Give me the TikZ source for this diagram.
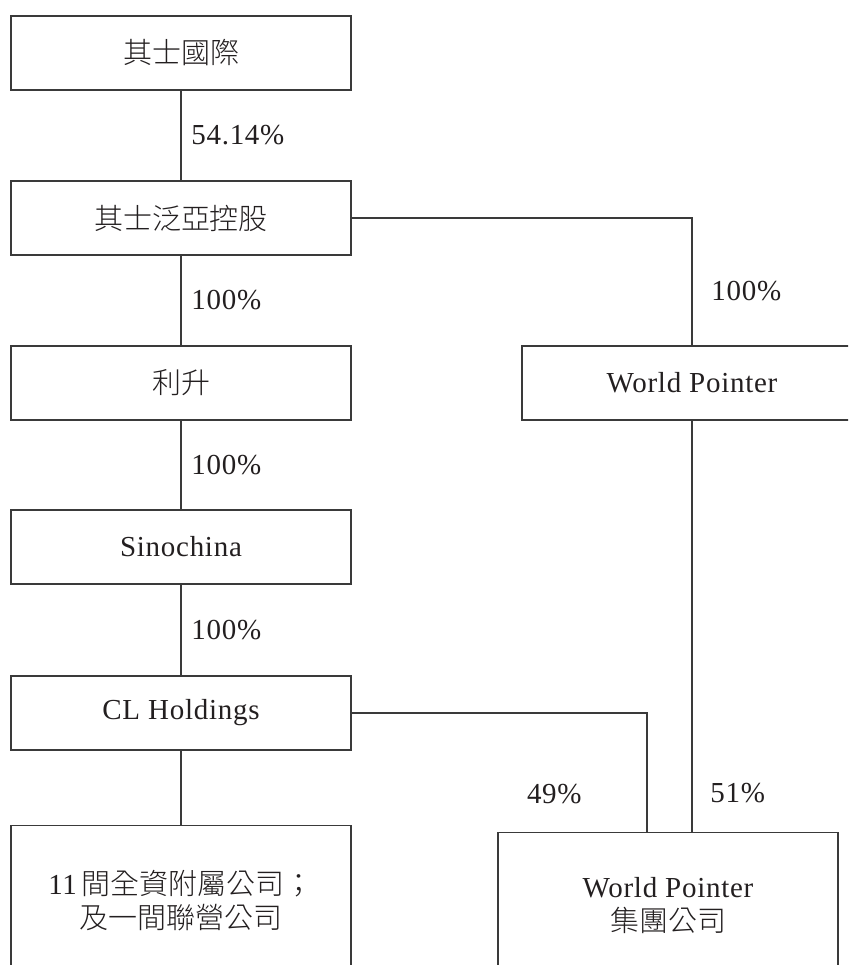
\documentclass[tikz,border=0pt]{standalone}
\usepackage{fontspec}
\setmainfont{Liberation Serif}[LetterSpace=2.5]
\newfontfamily\cjk{Noto Sans CJK TC}[UprightFont=* Light]
\definecolor{inkcol}{HTML}{231F20}
\definecolor{linecol}{HTML}{3A3A3A}
\tikzset{
	cobox/.style={draw=linecol, line width=0.7pt, minimum width=170pt, minimum height=37pt, inner sep=0pt},
	lowbox/.style={cobox, anchor=north, align=center, inner ysep=22.5pt, text depth=45pt},
	link/.style={draw=linecol, line width=0.7pt}
}
\begin{document}
\begin{tikzpicture}[auto, x=0.5pt, y=-0.5pt, text=inkcol, font=\fontsize{14.5}{17}\selectfont]
				\useasboundingbox (0,0) rectangle (848,965);
				\clip (0,0) rectangle (848,965);
				\node[cobox] (chisintl) at (181, 53) {\cjk 其士國際};
				\node[cobox] (chispan) at (181, 218) {\cjk 其士泛亞控股};
				\node[cobox] (lisheng) at (181, 383) {\cjk 利升};
				\node[cobox] (sino) at (181, 547) {Sinochina};
				\node[cobox] (clh) at (181, 713) {CL Holdings};
				\node[lowbox] (subs) at (181, 825) {11\,{\cjk 間全資附屬公司；}\\{\cjk 及一間聯營公司}};
				\node[cobox] (wp) at (692, 383) {World Pointer};
				\node[lowbox] (wpg) at (668, 832) {World Pointer\\{\cjk 集團公司}};
				\draw[link] (chisintl) to node[xshift=1.5pt] {54.14\%} (chispan);
				\draw[link] (chispan) to node[xshift=1.5pt] {100\%} (lisheng);
				\draw[link] (lisheng) to node[xshift=1.5pt] {100\%} (sino);
				\draw[link] (sino) to node[xshift=1.5pt] {100\%} (clh);
				\draw[link] (clh) to (subs);
				\draw[link] (chispan) -| node[pos=0.785, xshift=6pt] {100\%} (wp);
				\draw[link] (clh) -| node[swap, pos=0.84, xshift=-29pt] {49\%} ([xshift=-10.5pt]wpg.north);
				\draw[link] (wp) to node[pos=0.905, xshift=5.5pt] {51\%} ([xshift=12pt]wpg.north);
			\end{tikzpicture}
\end{document}
